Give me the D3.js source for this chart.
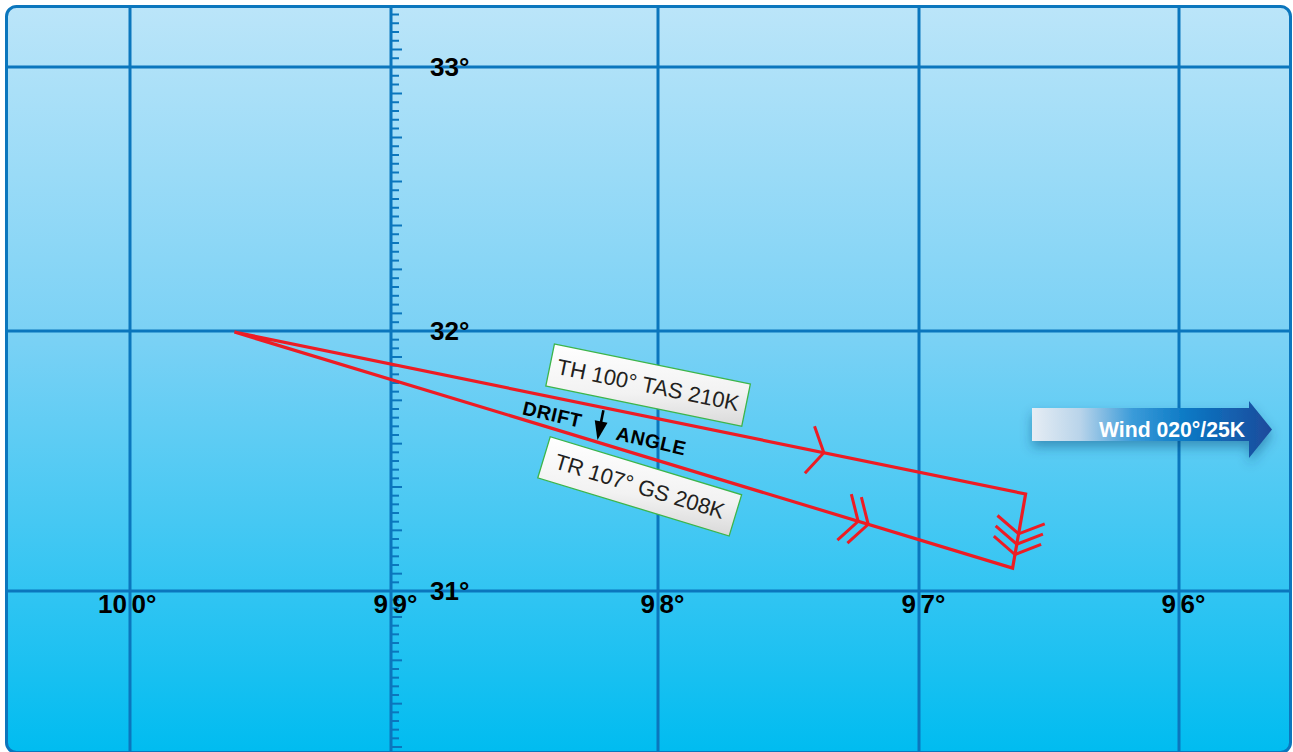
<!DOCTYPE html>
<html><head><meta charset="utf-8">
<script src="https://cdn.jsdelivr.net/npm/d3@7"></script>
<style>html,body{margin:0;padding:0;background:#fff;} svg{display:block;}</style>
</head><body>
<svg id="chart" width="1293" height="752"></svg>
<script>
// ---- data ----
const meridians = [100, 99, 98, 97, 96];
const meridianLabels = ["100°", "99°", "98°", "97°", "96°"];
const parallels = [33, 32, 31];
const parallelLabels = ["33°", "32°", "31°"];
const pointNames = ["Departure", "Air position", "Ground position"];
const pointLon = [99.60, 96.59, 96.64];
const pointLat = [31.996, 31.373, 31.088];
const legFrom = [0, 1, 0];
const legTo = [1, 2, 2];
const legNames = ["TH", "Wind", "TR"];
const legChevrons = [1, 3, 2];
const legChevronAt = [0.745, 0.677, 0.808];
const boxTexts = ["TH 100° TAS 210K", "TR 107° GS 208K"];
const boxLeg = [0, 2];
const boxAt = [0.515, 0.532];
const driftWords = ["DRIFT", "ANGLE"];
const driftAt = [0.467, 0.466];
const windText = "Wind 020°/25K";
const tickMeridian = 99;

// ---- layout ----
const W = 1293, H = 752;
const FONT = "'Liberation Sans', Arial, Helvetica, sans-serif";
const gridColor = "#0b76bd";
const red = "#ed1c24";
const frame = {x: 6.5, y: 6.5, w: 1284, h: 746, r: 10};

const svg = d3.select("#chart");
const x = d3.scaleLinear().domain([101, 100, 99, 98, 97, 96, 95]).range([-131, 130, 391, 658, 919, 1179, 1439]);
const y = d3.scaleLinear().domain([34, 33, 32, 31, 30]).range([-195, 67, 331, 591, 851]);

const defs = svg.append("defs");
const bg = defs.append("linearGradient").attr("id", "bg").attr("x1", 0).attr("y1", 0).attr("x2", 0).attr("y2", 1);
[[0, "#bbe5f9"], [0.45, "#79d1f5"], [0.8, "#2ec4f2"], [1, "#00bcf0"]].forEach(s => bg.append("stop").attr("offset", s[0]).attr("stop-color", s[1]));
defs.append("clipPath").attr("id", "clip").append("rect")
  .attr("x", frame.x).attr("y", frame.y).attr("width", frame.w).attr("height", frame.h).attr("rx", frame.r);
const boxG = defs.append("linearGradient").attr("id", "boxg").attr("x1", 0).attr("y1", 0).attr("x2", 1).attr("y2", 1);
[[0, "#ffffff"], [0.6, "#f2f2f2"], [1, "#d9d9d9"]].forEach(s => boxG.append("stop").attr("offset", s[0]).attr("stop-color", s[1]));
const windG = defs.append("linearGradient").attr("id", "windg").attr("gradientUnits", "userSpaceOnUse")
  .attr("x1", 1032).attr("y1", 0).attr("x2", 1272).attr("y2", 0);
[[0, "#e6edf4"], [0.2, "#b9d4ea"], [0.42, "#3a9bd9"], [0.65, "#0a78c4"], [1, "#1d4a9b"]].forEach(s => windG.append("stop").attr("offset", s[0]).attr("stop-color", s[1]));
const sh = defs.append("filter").attr("id", "shadow").attr("x", "-20%").attr("y", "-50%").attr("width", "140%").attr("height", "220%");
sh.append("feDropShadow").attr("dx", 0).attr("dy", 6).attr("stdDeviation", 6).attr("flood-color", "#0a3a66").attr("flood-opacity", 0.4);

// background
svg.append("rect").attr("x", frame.x).attr("y", frame.y).attr("width", frame.w).attr("height", frame.h)
  .attr("rx", frame.r).attr("fill", "url(#bg)");

const g = svg.append("g").attr("clip-path", "url(#clip)");

// grid
g.selectAll("line.mer").data(meridians).join("line").attr("class", "mer")
  .attr("x1", d => x(d)).attr("x2", d => x(d)).attr("y1", 0).attr("y2", H)
  .attr("stroke", gridColor).attr("stroke-width", 3);
g.selectAll("line.par").data(parallels).join("line").attr("class", "par")
  .attr("y1", d => y(d)).attr("y2", d => y(d)).attr("x1", 0).attr("x2", W)
  .attr("stroke", gridColor).attr("stroke-width", 3);

// minute ticks on the 99° meridian (every 2')
const tickIdx = d3.range(Math.ceil(y.invert(H) * 30), Math.floor(y.invert(0) * 30) + 1).filter(i => i % 30 !== 0);
g.selectAll("line.tick").data(tickIdx).join("line").attr("class", "tick")
  .attr("x1", x(tickMeridian)).attr("x2", i => x(tickMeridian) + (i % 5 === 2 ? 11 : 8))
  .attr("y1", i => y(i / 30)).attr("y2", i => y(i / 30))
  .attr("stroke", gridColor).attr("stroke-width", 2);

// frame border
svg.append("rect").attr("x", frame.x).attr("y", frame.y).attr("width", frame.w).attr("height", frame.h)
  .attr("rx", frame.r).attr("fill", "none").attr("stroke", gridColor).attr("stroke-width", 3);

// labels
const labG = svg.append("g").attr("font-family", FONT).attr("font-weight", "bold").attr("font-size", 26).attr("fill", "#000");
labG.selectAll("text.latl").data(parallels).join("text").attr("class", "latl")
  .attr("x", 430).attr("y", d => y(d) + 8.5).text((d, i) => parallelLabels[i]);
meridians.forEach((m, i) => {
  const lab = meridianLabels[i];
  const cut = lab.length - 2;
  labG.append("text").attr("x", x(m) - 3).attr("y", y(31) + 22).attr("text-anchor", "end").text(lab.slice(0, cut));
  labG.append("text").attr("x", x(m) + 1.5).attr("y", y(31) + 22).attr("text-anchor", "start").text(lab.slice(cut));
});

// vector triangle
const pts = pointLon.map((lon, i) => [x(lon), y(pointLat[i])]);
const rg = svg.append("g");
rg.append("path").attr("d", d3.line()([pts[0], pts[1], pts[2]]) + "Z")
  .attr("fill", "none").attr("stroke", red).attr("stroke-width", 3.2)
  .attr("stroke-linejoin", "miter").attr("stroke-miterlimit", 4);

function legGeom(j) {
  const P = pts[legFrom[j]], Q = pts[legTo[j]];
  const dx = Q[0] - P[0], dy = Q[1] - P[1], L = Math.hypot(dx, dy);
  return {P, Q, L, ux: dx / L, uy: dy / L};
}
function rot(vx, vy, a) { const c = Math.cos(a), s = Math.sin(a); return [vx * c - vy * s, vx * s + vy * c]; }

legNames.forEach((nm, j) => {
  const lg = legGeom(j);
  const n = legChevrons[j], sp = 10.5, arm = 28, ang = 59 * Math.PI / 180;
  for (let k = 0; k < n; k++) {
    const dist = legChevronAt[j] * lg.L + (k - (n - 1) / 2) * sp;
    const ax = lg.P[0] + lg.ux * dist, ay = lg.P[1] + lg.uy * dist;
    const a1 = rot(-lg.ux, -lg.uy, ang), a2 = rot(-lg.ux, -lg.uy, -ang);
    rg.append("path").attr("d", `M${ax + a1[0] * arm},${ay + a1[1] * arm}L${ax},${ay}L${ax + a2[0] * arm},${ay + a2[1] * arm}`)
      .attr("fill", "none").attr("stroke", red).attr("stroke-width", 3).attr("stroke-linejoin", "miter");
  }
});

// label boxes
const boxOffset = [-31, 30];
boxTexts.forEach((t, b) => {
  const lg = legGeom(boxLeg[b]);
  const d = boxAt[b] * lg.L;
  const nx = -lg.uy, ny = lg.ux;
  const cx = lg.P[0] + lg.ux * d + nx * boxOffset[b], cy = lg.P[1] + lg.uy * d + ny * boxOffset[b];
  const angle = Math.atan2(lg.uy, lg.ux) * 180 / Math.PI;
  const bg2 = svg.append("g").attr("transform", `translate(${cx},${cy}) rotate(${angle})`);
  bg2.append("rect").attr("x", -100).attr("y", -21.5).attr("width", 200).attr("height", 43)
    .attr("fill", "url(#boxg)").attr("stroke", "#3db54a").attr("stroke-width", 1.3);
  bg2.append("text").attr("x", 0).attr("y", 7.5).attr("text-anchor", "middle")
    .attr("font-family", FONT).attr("font-size", 22).attr("fill", "#231f20").text(t);
});

// drift angle arrow
const l0 = legGeom(0), l2 = legGeom(2);
const S0 = [l0.P[0] + l0.ux * driftAt[0] * l0.L, l0.P[1] + l0.uy * driftAt[0] * l0.L];
const E0 = [l2.P[0] + l2.ux * driftAt[1] * l2.L, l2.P[1] + l2.uy * driftAt[1] * l2.L];
const adx = E0[0] - S0[0], ady = E0[1] - S0[1], aL = Math.hypot(adx, ady);
const au = [adx / aL, ady / aL];
const S = [S0[0] + au[0] * 2.5, S0[1] + au[1] * 2.5];
const E = [E0[0] - au[0] * 2, E0[1] - au[1] * 2];
const headL = 19, headW = 6.5;
const HB = [E[0] - au[0] * headL, E[1] - au[1] * headL];
svg.append("line").attr("x1", S[0]).attr("y1", S[1]).attr("x2", HB[0] + au[0] * 2).attr("y2", HB[1] + au[1] * 2)
  .attr("stroke", "#000").attr("stroke-width", 2.6);
svg.append("path").attr("d", `M${E[0]},${E[1]}L${HB[0] - au[1] * headW},${HB[1] + au[0] * headW}L${HB[0] + au[1] * headW},${HB[1] - au[0] * headW}Z`)
  .attr("fill", "#000");
const mid = [(S[0] + E[0]) / 2, (S[1] + E[1]) / 2];
const driftOff = [[-48, -11], [51, 15.5]];
driftWords.forEach((w, i) => {
  svg.append("text").attr("transform", `translate(${mid[0] + driftOff[i][0]},${mid[1] + driftOff[i][1]}) rotate(13)`)
    .attr("text-anchor", "middle").attr("dy", "0.36em")
    .attr("font-family", FONT).attr("font-weight", "bold").attr("font-size", 19.5).attr("letter-spacing", 0.6)
    .attr("fill", "#000").text(w);
});

// wind arrow
const wa = svg.append("g");
wa.append("path").attr("d", "M1032,408L1249,408L1249,401L1272,429.5L1249,458L1249,441L1032,441Z")
  .attr("fill", "url(#windg)").attr("filter", "url(#shadow)");
wa.append("text").attr("x", 1099).attr("y", 437).attr("font-family", FONT).attr("font-weight", "bold")
  .attr("font-size", 22).attr("textLength", 146).attr("lengthAdjust", "spacingAndGlyphs")
  .attr("fill", "#fff").text(windText);
</script>
</body></html>
